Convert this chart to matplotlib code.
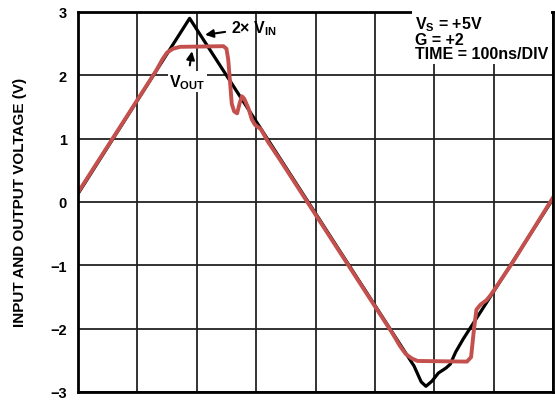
import matplotlib.pyplot as plt

plt.rcParams['font.family'] = 'Liberation Sans'
plt.rcParams['font.weight'] = 'bold'
plt.rcParams['mathtext.fontset'] = 'custom'
plt.rcParams['mathtext.rm'] = 'Liberation Sans:bold'
plt.rcParams['mathtext.bf'] = 'Liberation Sans:bold'
plt.rcParams['mathtext.it'] = 'Liberation Sans:bold'

# time in divisions (100ns/DIV), voltage in V
vin2_x = [0.0, 1.88, 5.66, 5.78, 5.86, 5.96, 6.07, 6.20, 6.27, 6.36, 6.49, 8.0]
vin2_y = [0.13, 2.90, -2.59, -2.84, -2.91, -2.83, -2.70, -2.62, -2.56, -2.37, -2.16, 0.05]

vout_x = [0.0, 1.32, 1.42, 1.50, 1.60, 1.72, 2.45, 2.50, 2.53, 2.56, 2.59, 2.63, 2.68,
          2.72, 2.76, 2.80, 2.87, 2.93, 2.98, 3.08, 3.20, 3.40, 5.30, 5.42, 5.52, 5.62,
          5.72, 6.55, 6.62, 6.67, 6.71, 6.78, 6.88, 6.95, 7.31, 8.0]
vout_y = [0.15, 2.08, 2.25, 2.36, 2.42, 2.45, 2.46, 2.42, 2.25, 1.90, 1.55, 1.43, 1.40,
          1.55, 1.67, 1.63, 1.48, 1.30, 1.22, 1.15, 0.95, 0.67, -2.08, -2.27, -2.40, -2.47,
          -2.51, -2.52, -2.45, -2.00, -1.70, -1.62, -1.55, -1.47, -0.97, 0.07]

yticks = [-3, -2, -1, 0, 1, 2, 3]
ytick_labels = ['\u22123', '\u22122', '\u22121', '0', '1', '2', '3']

fig = plt.figure(figsize=(5.55, 4.06), dpi=100)
ax = fig.add_axes([78 / 555, 13 / 406, 475 / 555, 380 / 406])

red = '#c4504d'
ax.plot(vin2_x, vin2_y, color='black', lw=2.3, solid_joinstyle='round', zorder=3)
ax.plot(vout_x, vout_y, color=red, lw=2.8, solid_joinstyle='round', zorder=4)

ax.set_xlim(0, 8)
ax.set_ylim(-3, 3)
ax.set_xticks(range(9))
ax.set_xticklabels([])
ax.set_yticks(yticks)
ax.set_yticklabels(ytick_labels, fontsize=10.5, fontweight='bold')
ax.tick_params(length=0, pad=8)
ax.grid(True, color='#222222', lw=1.3, zorder=1)
for s in ax.spines.values():
    s.set_linewidth(2)
    s.set_zorder(5)

fig.text(20.5 / 555, 1 - 202 / 406, 'INPUT AND OUTPUT VOLTAGE (V)', rotation=90,
         ha='center', va='center', fontsize=11, fontweight='bold')

ax.annotate('2\u00d7 V$_{\\mathbf{IN}}$', xy=(2.14, 2.64), xytext=(2.57, 2.75),
            ha='left', va='center', fontsize=11.5, fontweight='bold', zorder=6,
            arrowprops=dict(arrowstyle='-|>', color='black', lw=1.5,
                            mutation_scale=12, shrinkA=2, shrinkB=0))
ax.annotate('V$_{\\mathbf{OUT}}$', xy=(1.92, 2.38), xytext=(1.84, 1.9),
            ha='center', va='center', fontsize=11.5, fontweight='bold', zorder=6,
            bbox=dict(facecolor='white', edgecolor='none', pad=1),
            arrowprops=dict(arrowstyle='-|>', color='black', lw=1.5,
                            mutation_scale=12, shrinkA=4, shrinkB=0))

ax.text(5.67, 2.97, 'V$_{\\mathbf{S}}$ = +5V\nG = +2\nTIME = 100ns/DIV',
        ha='left', va='top', fontsize=11.5, fontweight='bold', linespacing=0.95,
        zorder=6, bbox=dict(facecolor='white', edgecolor='none', pad=2))

fig.savefig('out.png', dpi=100)
